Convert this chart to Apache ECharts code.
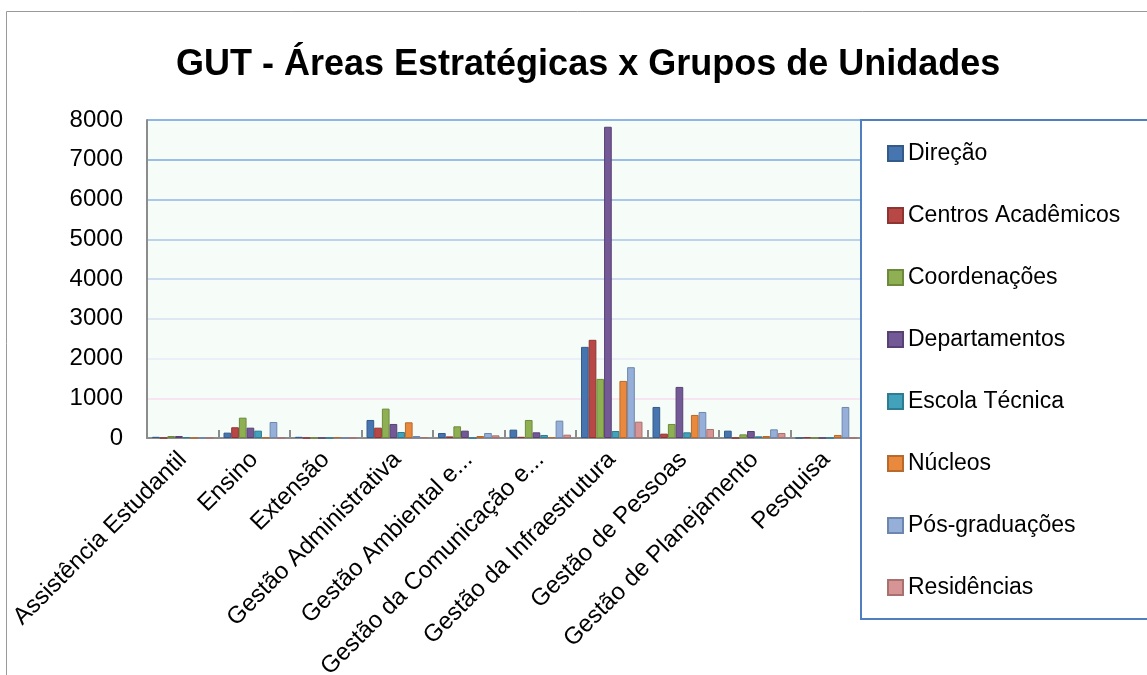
<!DOCTYPE html>
<html>
<head>
<meta charset="utf-8">
<script src="https://cdn.jsdelivr.net/npm/echarts@6/dist/echarts.min.js"></script>
<style>
html,body{margin:0;padding:0;background:#fff;}
#chart{width:1147px;height:675px;}
</style>
</head>
<body>
<div id="chart"></div>
<script>
const categories = ['Assistência Estudantil','Ensino','Extensão','Gestão Administrativa','Gestão Ambiental e...','Gestão da Comunicação e...','Gestão da Infraestrutura','Gestão de Pessoas','Gestão de Planejamento','Pesquisa'];
const yTicks = [0,1000,2000,3000,4000,5000,6000,7000,8000];
const direcao        = [30, 135, 30, 454, 126, 210, 2293, 781, 185, 0];
const centros        = [0, 270, 0, 260, 40, 30, 2470, 109, 0, 15];
const coordenacoes   = [50, 512, 0, 739, 294, 454, 1487, 353, 92, 0];
const departamentos  = [50, 260, 0, 353, 185, 143, 7830, 1285, 176, 0];
const escolaTecnica  = [20, 185, 0, 151, 0, 76, 176, 143, 42, 0];
const nucleos        = [0, 15, 20, 395, 50, 25, 1436, 580, 50, 76];
const posGraduacoes  = [0, 403, 0, 50, 126, 437, 1781, 655, 218, 781];
const residencias    = [0, 0, 0, 25, 67, 84, 411, 227, 126, 0];

const seriesDefs = [
  ['Direção', direcao, '#4675b0', '#345a8a'],
  ['Centros Acadêmicos', centros, '#b84845', '#8e3533'],
  ['Coordenações', coordenacoes, '#8fb052', '#6d8a3c'],
  ['Departamentos', departamentos, '#745997', '#574273'],
  ['Escola Técnica', escolaTecnica, '#42a1bb', '#2f7c90'],
  ['Núcleos', nucleos, '#e8893d', '#b8692c'],
  ['Pós-graduações', posGraduacoes, '#95afd9', '#6d86ad'],
  ['Residências', residencias, '#d69594', '#a87170']
];

const chart = echarts.init(document.getElementById('chart'), null, {renderer:'canvas'});
const FONT = '"Liberation Sans", Arial, sans-serif';
chart.setOption({
  backgroundColor: '#ffffff',
  animation: false,
  title: {
    text: 'GUT - Áreas Estratégicas x Grupos de Unidades',
    left: 171,
    top: 42,
    textStyle: {fontFamily: FONT, fontSize: 36, fontWeight: 'bold', color: '#000'}
  },
  graphic: [{
    type: 'rect', shape: {x: 6.5, y: 11.5, width: 1200, height: 700},
    style: {fill: 'none', stroke: '#9a9a9a', lineWidth: 1}, z: -10
  }],
  legend: {
    orient: 'vertical',
    left: 861, top: 120,
    padding: [22, 60, 20, 26],
    itemGap: 39,
    itemWidth: 15, itemHeight: 15,
    icon: 'rect',
    backgroundColor: '#ffffff',
    borderColor: '#4f7fc0', borderWidth: 2,
    textStyle: {fontFamily: FONT, fontSize: 23, color: '#000', lineHeight: 22},
    data: seriesDefs.map(s => s[0])
  },
  grid: {
    left: 147, right: 285, top: 120, bottom: 237,
    containLabel: false, outerBoundsMode: 'none',
    show: true, backgroundColor: '#f6fdf9', borderWidth: 0
  },
  xAxis: {
    type: 'category',
    data: categories,
    axisLine: {show: true, lineStyle: {color: '#8c8c8c', width: 2}},
    axisTick: {show: true, inside: true, length: 8, alignWithLabel: false, lineStyle: {color: '#8c8c8c', width: 2}},
    axisLabel: {rotate: 45, interval: 0, margin: 18, fontFamily: FONT, fontSize: 24, color: '#000'}
  },
  yAxis: {
    type: 'value',
    min: 0, max: 8000, interval: 1000,
    axisLine: {show: true, lineStyle: {color: '#8c8c8c', width: 2}},
    axisTick: {show: false},
    axisLabel: {fontFamily: FONT, fontSize: 24, color: '#000', margin: 24,
      formatter: v => yTicks.includes(v) ? String(v) : ''},
    splitLine: {show: true, lineStyle: {width: 1.5,
      color: ['#cccccc','#f9dcef','#e9e8f7','#d7dff0','#bfd1ec','#a9c5ea','#92b6e5','#7ca9e0','#6a9edc']}}
  },
  series: seriesDefs.map(s => ({
    name: s[0], type: 'bar', data: s[1],
    barGap: '0%', barCategoryGap: '14%',
    itemStyle: {color: s[2], borderColor: s[3], borderWidth: 1}
  }))
});
</script>
</body>
</html>
